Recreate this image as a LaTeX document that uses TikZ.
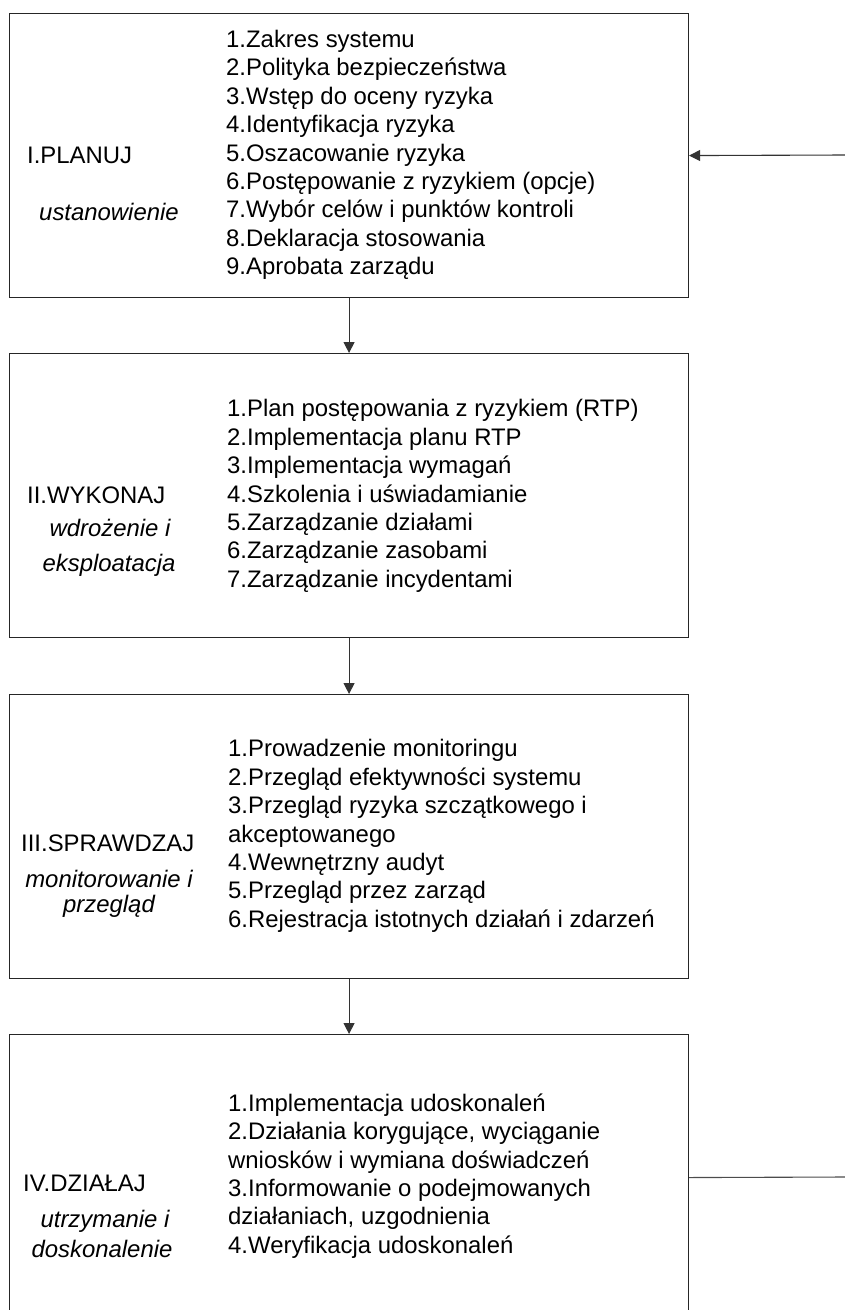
\documentclass[tikz,border=0pt]{standalone}
\usepackage{fontspec}
\setmainfont{Liberation Sans}
\usetikzlibrary{arrows.meta}
\begin{document}
\begin{tikzpicture}[x=1pt,y=-1pt,
  box/.style={draw=black!85, line width=1.1pt, rectangle, minimum width=679pt, anchor=north west, inner sep=0pt},
  arr/.style={draw=black!80, line width=1.1pt, -{Triangle[length=11pt,width=11pt]}},
  conn/.style={draw=black!70, line width=1.1pt},
  list/.style={anchor=west, align=left, inner sep=0pt, font=\fontsize{23.9}{28.4}\selectfont},
  lab/.style={anchor=west, inner sep=0pt, font=\fontsize{23.9}{28.4}\selectfont},
  sub/.style={anchor=center, align=center, inner sep=0pt, font=\fontsize{23.9}{28.4}\selectfont\itshape}]
\clip (0,0) rectangle (845,1310);
\useasboundingbox (0,0) rectangle (845,1310);

\node[box, minimum height=284pt] (b1) at (9,13) {};
\node[box, minimum height=284pt] (b2) at (9,353) {};
\node[box, minimum height=284pt] (b3) at (9,694) {};
\node[box, minimum height=286pt] (b4) at (9,1034) {};

% box 1
\node[lab] (l1) at (27,155) {I.PLANUJ};
\node[sub] (s1) at (109,212) {ustanowienie};
\node[list] (t1) at (226,155) {1.Zakres systemu\\2.Polityka bezpieczeństwa\\3.Wstęp do oceny ryzyka\\4.Identyfikacja ryzyka\\5.Oszacowanie ryzyka\\6.Postępowanie z ryzykiem (opcje)\\7.Wybór celów i punktów kontroli\\8.Deklaracja stosowania\\9.Aprobata zarządu};

% box 2
\node[lab] (l2) at (27,495) {II.WYKONAJ};
\node[sub] (s2a) at (110,528) {wdrożenie i};
\node[sub] (s2b) at (109,565) {eksploatacja};
\node[list] (t2) at (227,496) {1.Plan postępowania z ryzykiem (RTP)\\2.Implementacja planu RTP\\3.Implementacja wymagań\\4.Szkolenia i uświadamianie\\5.Zarządzanie działami\\6.Zarządzanie zasobami\\7.Zarządzanie incydentami};

% box 3
\node[lab] (l3) at (21,843) {III.SPRAWDZAJ};
\node[sub] (s3a) at (109,879) {monitorowanie i};
\node[sub] (s3b) at (109,906) {przegląd};
\node[list] (t3) at (228,836) {1.Prowadzenie monitoringu\\2.Przegląd efektywności systemu\\3.Przegląd ryzyka szczątkowego i\\akceptowanego\\4.Wewnętrzny audyt\\5.Przegląd przez zarząd\\6.Rejestracja istotnych działań i zdarzeń};

% box 4
\node[lab] (l4) at (23,1183) {IV.DZIAŁAJ};
\node[sub] (s4a) at (105,1221) {utrzymanie i};
\node[sub] (s4b) at (102,1249) {doskonalenie};
\node[list] (t4) at (228,1176) {1.Implementacja udoskonaleń\\2.Działania korygujące, wyciąganie\\wniosków i wymiana doświadczeń\\3.Informowanie o podejmowanych\\działaniach, uzgodnienia\\4.Weryfikacja udoskonaleń};

% connectors
\draw[arr] (b1.south) -- (b2.north);
\draw[arr] (b2.south) -- (b3.north);
\draw[arr] (b3.south) -- (b4.north);
\coordinate (in1) at (845,155);
\coordinate (out4) at (845,1177);
\draw[arr] (in1) -- (b1.east);
\draw[conn] (b4.east) -- (out4);
\end{tikzpicture}
\end{document}
